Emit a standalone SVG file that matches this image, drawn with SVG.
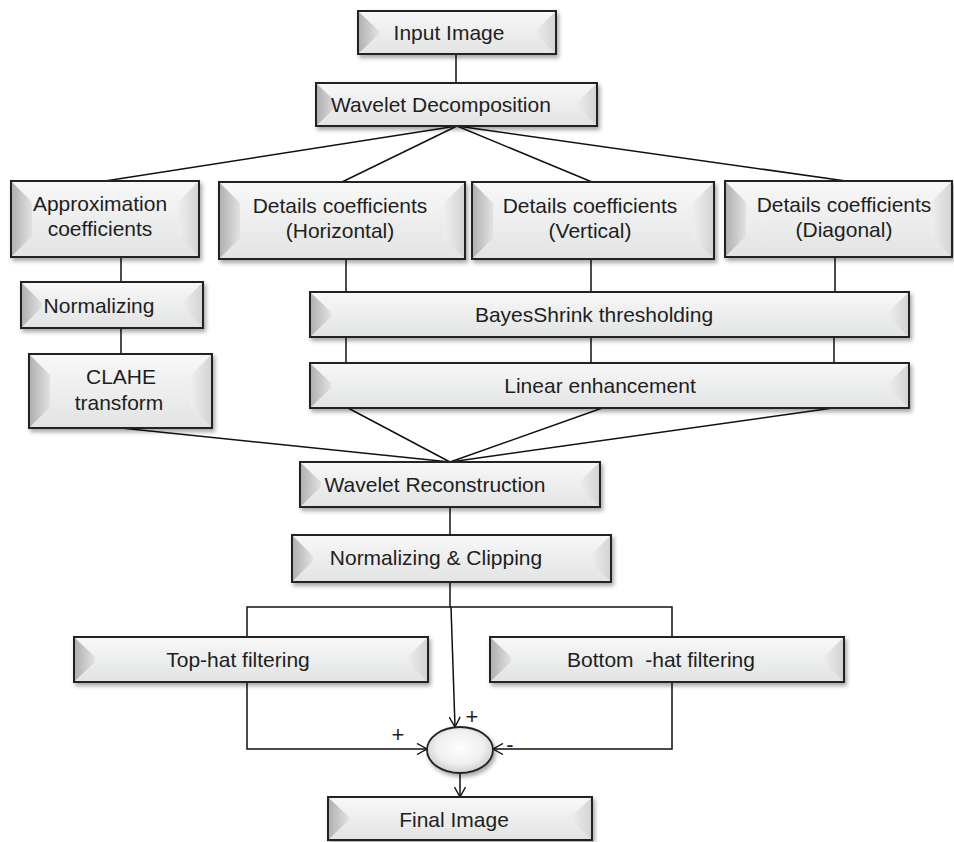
<svg xmlns="http://www.w3.org/2000/svg" width="954" height="842" viewBox="0 0 954 842">
<defs>
  <linearGradient id="face" x1="0" y1="0" x2="0" y2="1">
    <stop offset="0" stop-color="#f8f8f8"/>
    <stop offset="1" stop-color="#e2e3e3"/>
  </linearGradient>
  <linearGradient id="lb" x1="0" y1="0" x2="1" y2="0">
    <stop offset="0" stop-color="#b0b0b0"/>
    <stop offset="1" stop-color="#e2e2e2"/>
  </linearGradient>
  <linearGradient id="rb" x1="0" y1="0" x2="1" y2="0">
    <stop offset="0" stop-color="#eeeeee"/>
    <stop offset="1" stop-color="#d4d4d4"/>
  </linearGradient>
  <radialGradient id="ell" cx="0.5" cy="0.45" r="0.6">
    <stop offset="0" stop-color="#ffffff"/>
    <stop offset="0.6" stop-color="#efefef"/>
    <stop offset="1" stop-color="#c4c4c4"/>
  </radialGradient>
  <filter id="sh" x="-10%" y="-20%" width="130%" height="160%">
    <feDropShadow dx="2" dy="3" stdDeviation="2" flood-color="#000" flood-opacity="0.35"/>
  </filter>
  <marker id="arr" viewBox="0 0 12 12" refX="11" refY="6" markerWidth="12" markerHeight="12" orient="auto" markerUnits="userSpaceOnUse">
    <path d="M1,0.5 L11,6 L1,11.5" fill="none" stroke="#111" stroke-width="1.4"/>
  </marker>
  <style>
    .box { fill: url(#face); stroke: #222; stroke-width: 2; filter: url(#sh); }
    .lb { fill: url(#lb); stroke: none; }
    .rb { fill: url(#rb); stroke: none; }
    .t { font-family: "Liberation Sans", Arial, sans-serif; font-size: 21px; fill: #1e1e1e; text-anchor: middle; white-space: pre; }
    .s { font-family: "Liberation Sans", Arial, sans-serif; font-size: 22px; fill: #1e1e1e; text-anchor: middle; }
    .c { stroke: #111; stroke-width: 1.5; fill: none; }
  </style>
</defs>
<rect width="954" height="842" fill="#ffffff"/>

<g id="connectors">
  <line class="c" x1="456" y1="54" x2="456" y2="83"/>
  <line class="c" x1="457" y1="126" x2="105" y2="181"/>
  <line class="c" x1="457" y1="126" x2="342" y2="182"/>
  <line class="c" x1="457" y1="126" x2="592" y2="182"/>
  <line class="c" x1="457" y1="126" x2="846" y2="181"/>
  <line class="c" x1="121" y1="257" x2="121" y2="282"/>
  <line class="c" x1="121" y1="328" x2="121" y2="354"/>
  <line class="c" x1="346" y1="259" x2="346" y2="292"/>
  <line class="c" x1="591" y1="259" x2="591" y2="292"/>
  <line class="c" x1="835" y1="257" x2="835" y2="292"/>
  <line class="c" x1="346" y1="337" x2="346" y2="363"/>
  <line class="c" x1="591" y1="337" x2="591" y2="363"/>
  <line class="c" x1="834" y1="337" x2="834" y2="363"/>
  <line class="c" x1="121" y1="428" x2="450" y2="462"/>
  <line class="c" x1="348" y1="408" x2="450" y2="462"/>
  <line class="c" x1="608" y1="406" x2="450" y2="462"/>
  <line class="c" x1="833" y1="408" x2="450" y2="462"/>
  <line class="c" x1="450" y1="507" x2="450" y2="535"/>
  <line class="c" x1="450" y1="580" x2="450" y2="607" stroke-width="3"/>
  <polyline class="c" points="247,637 247,607 672,607 672,637"/>
  <line class="c" x1="451" y1="607" x2="455" y2="727" marker-end="url(#arr)"/>
  <polyline class="c" points="247,682 247,749 427,749" marker-end="url(#arr)"/>
  <polyline class="c" points="672,682 672,749 493,749" marker-end="url(#arr)"/>
  <line class="c" x1="460" y1="773" x2="460" y2="797" marker-end="url(#arr)"/>
</g>

<g id="input-image">
  <rect class="box" x="358" y="11" width="198" height="43"/>
  <polygon class="lb" points="359,12 379,31 379,34 359,53"/>
  <polygon class="rb" points="535,31 555,12 555,53 535,34"/>
  <text class="t" x="449" y="40">Input Image</text>
</g>

<g id="wavelet-decomposition">
  <rect class="box" x="316" y="83" width="281" height="43"/>
  <polygon class="lb" points="317,84 337,103 337,106 317,125"/>
  <polygon class="rb" points="576,103 596,84 596,125 576,106"/>
  <text class="t" x="441" y="112">Wavelet Decomposition</text>
</g>

<g id="approximation">
  <rect class="box" x="11" y="181" width="188" height="76"/>
  <polygon class="lb" points="12,182 32,202 32,236 12,256"/>
  <polygon class="rb" points="178,202 198,182 198,256 178,236"/>
  <text class="t" x="100" y="211">Approximation</text>
  <text class="t" x="100" y="236">coefficients</text>
</g>

<g id="details-horizontal">
  <rect class="box" x="219" y="182" width="246" height="77"/>
  <polygon class="lb" points="220,183 240,203 240,238 220,258"/>
  <polygon class="rb" points="444,203 464,183 464,258 444,238"/>
  <text class="t" x="340" y="213">Details coefficients</text>
  <text class="t" x="340" y="238">(Horizontal)</text>
</g>

<g id="details-vertical">
  <rect class="box" x="472" y="182" width="242" height="77"/>
  <polygon class="lb" points="473,183 493,203 493,238 473,258"/>
  <polygon class="rb" points="693,203 713,183 713,258 693,238"/>
  <text class="t" x="590" y="213">Details coefficients</text>
  <text class="t" x="590" y="238">(Vertical)</text>
</g>

<g id="details-diagonal">
  <rect class="box" x="725" y="181" width="227" height="76"/>
  <polygon class="lb" points="726,182 746,202 746,236 726,256"/>
  <polygon class="rb" points="931,202 951,182 951,256 931,236"/>
  <text class="t" x="844" y="212">Details coefficients</text>
  <text class="t" x="844" y="237">(Diagonal)</text>
</g>

<g id="normalizing">
  <rect class="box" x="21" y="282" width="182" height="46"/>
  <polygon class="lb" points="22,283 42,303 42,307 22,327"/>
  <polygon class="rb" points="182,303 202,283 202,327 182,307"/>
  <text class="t" x="99" y="313">Normalizing</text>
</g>

<g id="clahe">
  <rect class="box" x="29" y="354" width="183" height="74"/>
  <polygon class="lb" points="30,355 50,375 50,407 30,427"/>
  <polygon class="rb" points="191,375 211,355 211,427 191,407"/>
  <text class="t" x="121" y="384">CLAHE</text>
  <text class="t" x="119" y="410">transform</text>
</g>

<g id="bayesshrink">
  <rect class="box" x="310" y="292" width="599" height="45"/>
  <polygon class="lb" points="311,293 331,312 331,317 311,336"/>
  <polygon class="rb" points="888,312 908,293 908,336 888,317"/>
  <text class="t" x="594" y="322">BayesShrink thresholding</text>
</g>

<g id="linear-enhancement">
  <rect class="box" x="310" y="363" width="599" height="45"/>
  <polygon class="lb" points="311,364 331,383 331,388 311,407"/>
  <polygon class="rb" points="888,383 908,364 908,407 888,388"/>
  <text class="t" x="600" y="393">Linear enhancement</text>
</g>

<g id="wavelet-reconstruction">
  <rect class="box" x="300" y="462" width="300" height="45"/>
  <polygon class="lb" points="301,463 321,482 321,487 301,506"/>
  <polygon class="rb" points="579,482 599,463 599,506 579,487"/>
  <text class="t" x="435" y="492">Wavelet Reconstruction</text>
</g>

<g id="normalizing-clipping">
  <rect class="box" x="292" y="535" width="319" height="47"/>
  <polygon class="lb" points="293,536 313,556 313,561 293,581"/>
  <polygon class="rb" points="590,556 610,536 610,581 590,561"/>
  <text class="t" x="436" y="565">Normalizing &amp; Clipping</text>
</g>

<g id="top-hat">
  <rect class="box" x="74" y="637" width="354" height="45"/>
  <polygon class="lb" points="75,638 95,657 95,662 75,681"/>
  <polygon class="rb" points="407,657 427,638 427,681 407,662"/>
  <text class="t" x="238" y="667">Top-hat filtering</text>
</g>

<g id="bottom-hat">
  <rect class="box" x="490" y="637" width="354" height="45"/>
  <polygon class="lb" points="491,638 511,657 511,662 491,681"/>
  <polygon class="rb" points="823,657 843,638 843,681 823,662"/>
  <text class="t" x="661" y="667">Bottom  -hat filtering</text>
</g>

<g id="sum">
  <ellipse cx="460" cy="750" rx="33" ry="23" fill="url(#ell)" stroke="#222" stroke-width="1.8" filter="url(#sh)"/>
  <text class="s" x="472" y="724">+</text>
  <text class="s" x="398" y="742">+</text>
  <text class="s" x="510" y="752">-</text>
</g>

<g id="final-image">
  <rect class="box" x="328" y="797" width="264" height="43"/>
  <polygon class="lb" points="329,798 349,817 349,820 329,839"/>
  <polygon class="rb" points="571,817 591,798 591,839 571,820"/>
  <text class="t" x="454" y="827">Final Image</text>
</g>
</svg>
